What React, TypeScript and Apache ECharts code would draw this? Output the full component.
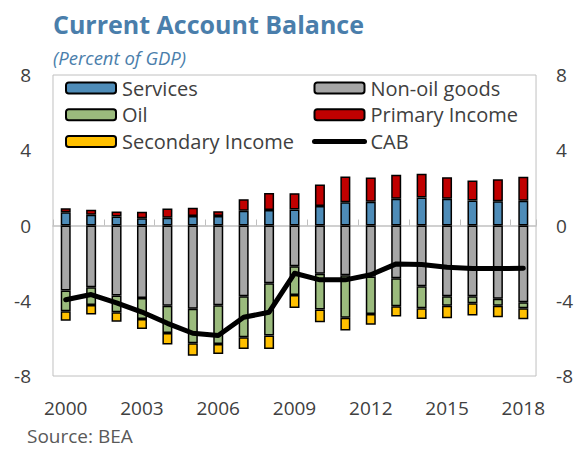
import React, { useEffect, useRef } from "react";
import * as echarts from "echarts";

const years = ["2000","2001","2002","2003","2004","2005","2006","2007","2008","2009","2010","2011","2012","2013","2014","2015","2016","2017","2018"];
const services = [0.71,0.57,0.48,0.39,0.41,0.51,0.51,0.78,0.83,0.85,1.03,1.24,1.26,1.42,1.49,1.42,1.33,1.29,1.31];
const nonOilGoods = [-3.46,-3.28,-3.72,-3.85,-4.26,-4.43,-4.24,-3.76,-3.07,-2.16,-2.57,-2.64,-2.71,-2.8,-3.23,-3.76,-3.76,-3.9,-4.08];
const oil = [-1.1,-0.94,-0.89,-1.12,-1.45,-1.83,-2.06,-2.18,-2.78,-1.53,-1.9,-2.27,-1.99,-1.49,-1.17,-0.5,-0.37,-0.37,-0.32];
const primaryIncome = [0.21,0.27,0.27,0.34,0.5,0.44,0.25,0.62,0.9,0.87,1.15,1.37,1.29,1.28,1.26,1.15,1.06,1.17,1.28];
const secondaryIncome = [-0.5,-0.51,-0.5,-0.53,-0.62,-0.66,-0.53,-0.62,-0.71,-0.69,-0.67,-0.67,-0.57,-0.55,-0.57,-0.67,-0.66,-0.61,-0.58];
const cab = [-3.95,-3.67,-4.11,-4.6,-5.2,-5.73,-5.85,-4.88,-4.61,-2.54,-2.89,-2.89,-2.62,-2.04,-2.07,-2.22,-2.29,-2.29,-2.27];
const yTicks = [-8, 4];

const FONT = "'Open Sans', 'Noto Sans', sans-serif";
const TEXT = "#404040";
const BLUE = "#4a7eab";

export default function App() {
  const ref = useRef<HTMLDivElement>(null);
  useEffect(() => {
    if (!ref.current) return;
    const chart = echarts.init(ref.current, null, { renderer: "svg" });
    const barBase = (name: string, data: number[], color: string) => ({
      name,
      type: "bar",
      stack: "total",
      data,
      barWidth: 10,
      itemStyle: { color, borderColor: "#000", borderWidth: 1.5 },
    });
    const legendCommon = {
      orient: "vertical",
      itemWidth: 50,
      itemHeight: 11,
      itemGap: 6.7,
      padding: 0,
      textStyle: { fontSize: 20, color: TEXT, fontFamily: FONT, lineHeight: 20, padding: [0, 0, 0, 1] },
      top: 78,
    };
    chart.setOption({
      animation: false,
      textStyle: { fontFamily: FONT },
      grid: { left: 53, right: 35, top: 75, bottom: 73, show: true, borderColor: "#c0c0c0", borderWidth: 1 },
      legend: [
        { ...legendCommon, left: 65, data: ["Services", "Oil", "Secondary Income"] },
        {
          ...legendCommon,
          left: 312,
          lineStyle: { width: 5, cap: "round" },
          data: ["Non-oil goods", "Primary Income", { name: "CAB", itemStyle: { opacity: 0 }, lineStyle: { width: 5, cap: "round" } }],
        },
      ],
      xAxis: [
        {
          type: "category",
          data: years,
          axisLine: { onZero: true, lineStyle: { color: "#c0c0c0", width: 1.5 } },
          axisTick: { show: true, inside: true, length: 6, lineStyle: { color: "#c0c0c0" } },
          axisLabel: { show: false },
        },
        {
          type: "category",
          data: years,
          position: "bottom",
          axisLine: { show: false, onZero: false },
          axisTick: { show: false },
          axisLabel: { interval: 2, fontSize: 19, color: TEXT, margin: 22, fontFamily: FONT },
        },
      ],
      yAxis: [
        {
          type: "value",
          min: yTicks[0],
          max: -yTicks[0],
          interval: yTicks[1],
          splitLine: { show: false },
          axisLine: { show: false },
          axisTick: { show: false },
          axisLabel: { fontSize: 19, color: TEXT, margin: 22, fontFamily: FONT },
        },
        {
          type: "value",
          min: yTicks[0],
          max: -yTicks[0],
          interval: yTicks[1],
          splitLine: { show: false },
          axisLine: { show: false },
          axisTick: { show: false },
          axisLabel: { fontSize: 19, color: TEXT, margin: 20, fontFamily: FONT },
        },
      ],
      series: [
        barBase("Services", services, "#4e8cb8"),
        barBase("Non-oil goods", nonOilGoods, "#a6a6a6"),
        barBase("Oil", oil, "#9bbb7d"),
        barBase("Primary Income", primaryIncome, "#c00000"),
        barBase("Secondary Income", secondaryIncome, "#ffc000"),
        {
          name: "CAB",
          type: "line",
          data: cab,
          symbol: "none",
          z: 5,
          lineStyle: { color: "#000", width: 5, cap: "round", join: "round" },
          itemStyle: { color: "#000" },
        },
      ],
      graphic: [
        { type: "text", left: 53, top: 11, style: { text: "Current Account Balance", fontSize: 25, fontWeight: "bold", fill: BLUE, fontFamily: FONT } },
        { type: "text", left: 53, top: 48, style: { text: "(Percent of GDP)", fontSize: 18.5, fontStyle: "italic", fill: BLUE, fontFamily: FONT } },
        { type: "text", left: 27, top: 426, style: { text: "Source: BEA", fontSize: 19, fill: "#595959", fontFamily: FONT } },
      ],
    });
    return () => chart.dispose();
  }, []);
  return <div ref={ref} style={{ width: 576, height: 449, position: "absolute", left: 0, top: 0 }} />;
}
